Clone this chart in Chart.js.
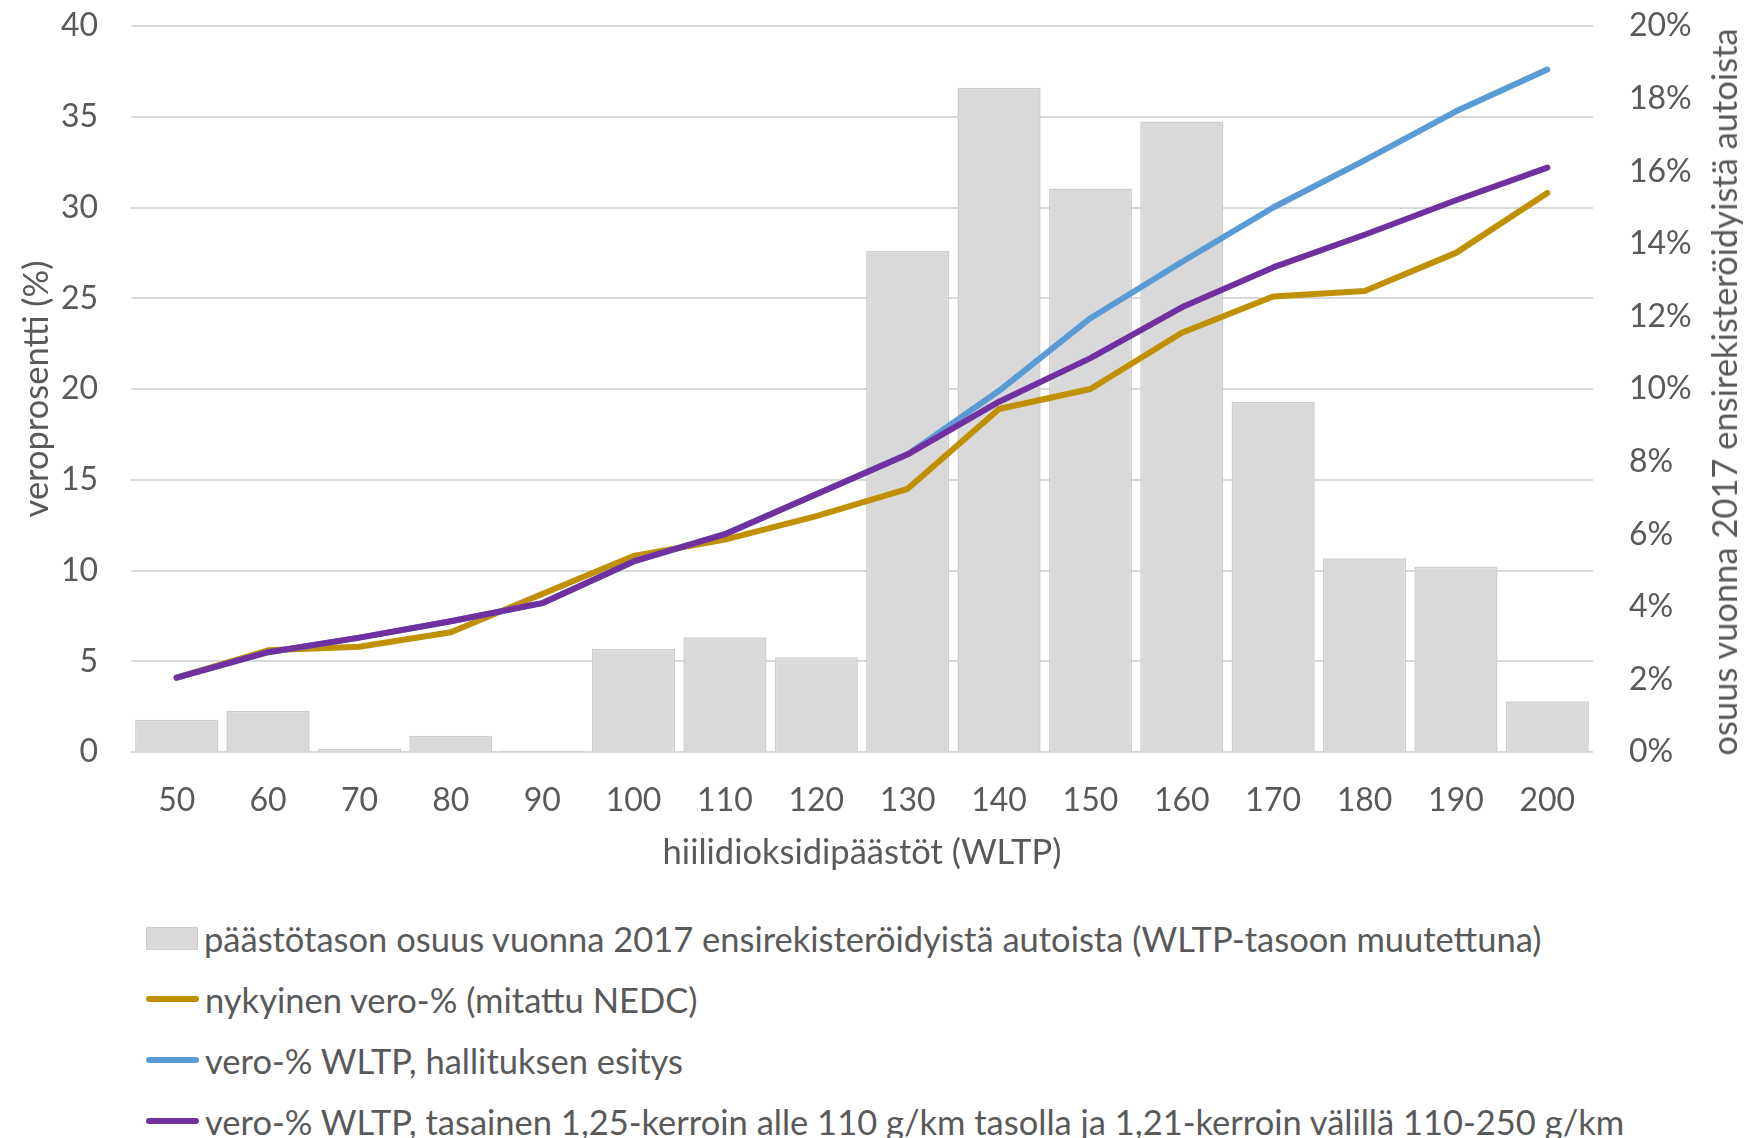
<!DOCTYPE html>
<html>
<head>
<meta charset="utf-8">
<script src="https://cdn.jsdelivr.net/npm/chart.js@4.4.1/dist/chart.umd.min.js"></script>
<style>
  body { margin: 0; background: #fff; font-family: Lato, sans-serif; }
  #wrap { position: relative; width: 1744px; height: 1138px; overflow: hidden; }
  #chart { position: absolute; left: 0; top: 0; }
  .row { position: absolute; left: 146px; height: 40px; display: flex; align-items: center;
         font-size: 34.5px; color: #595959; white-space: nowrap; }
  .sw { flex: none; margin-right: 6px; }
  #rightTitle { position: absolute; left: 1724px; top: 392px; font-size: 34.5px; color: #595959;
                white-space: nowrap; transform: translate(-50%, -50%) rotate(-90deg); line-height: 40px; }
</style>
</head>
<body>
<div id="wrap">
  <canvas id="chart" width="1744" height="890"></canvas>
  <div id="rightTitle"></div>
  <div id="legend"></div>
</div>
<script>
// x categories (g/km WLTP)
const categories = ['50', '60', '70', '80', '90', '100', '110', '120', '130', '140', '150', '160', '170', '180', '190', '200']

// share of 2017 first registrations, % (right axis)
const shareValues = [0.89, 1.13, 0.09, 0.45, 0.04, 2.84, 3.16, 2.61, 13.8, 18.3, 15.52, 17.37, 9.65, 5.34, 5.1, 1.4]

// tax percentages (left axis)
const currentTax = [4.1, 5.6, 5.8, 6.6, 8.7, 10.8, 11.7, 13.0, 14.5, 18.9, 20.0, 23.1, 25.1, 25.4, 27.5, 30.8]
const govProposal = [4.1, 5.5, 6.3, 7.2, 8.2, 10.5, 12.0, 14.2, 16.4, 19.9, 23.9, 27.0, 30.0, 32.6, 35.3, 37.6]
const flatCoef = [4.1, 5.5, 6.3, 7.2, 8.2, 10.5, 12.0, 14.2, 16.4, 19.3, 21.7, 24.5, 26.7, 28.5, 30.4, 32.2]

const seriesLabels = [
  'päästötason osuus vuonna 2017 ensirekisteröidyistä autoista (WLTP-tasoon muutettuna)',
  'nykyinen vero-% (mitattu NEDC)',
  'vero-% WLTP, hallituksen esitys',
  'vero-% WLTP, tasainen 1,25-kerroin alle 110 g/km tasolla ja 1,21-kerroin välillä 110-250 g/km'
]
const rightAxisTitle = 'osuus vuonna 2017 ensirekisteröidyistä autoista'

const textColor = '#595959'
const gridColor = '#D9D9D9'
const tickFont = { family: 'Lato', size: 32 }
const titleFont = { family: 'Lato', size: 34.5 }

const lineBase = {
  type: 'line',
  yAxisID: 'y',
  borderWidth: 6,
  pointRadius: 0,
  tension: 0,
  borderCapStyle: 'round',
  borderJoinStyle: 'round',
  fill: false
}

// fixed scale box sizes so the plot area sits where the original has it
function fixWidth(w) {
  return (scale) => {
    scale.width = w
    scale.paddingTop = 0
    scale.paddingBottom = 0
  }
}

const ctx = document.getElementById('chart')

new Chart(ctx, {
  data: {
    labels: categories,
    datasets: [
      {
        type: 'bar',
        label: seriesLabels[0],
        data: shareValues,
        yAxisID: 'y2',
        backgroundColor: '#D9D9D9',
        borderColor: '#CDCDCD',
        borderWidth: 1.5,
        barPercentage: 1,
        categoryPercentage: 0.91,
        order: 4
      },
      { ...lineBase, label: seriesLabels[1], data: currentTax, borderColor: '#BF9000', order: 3 },
      { ...lineBase, label: seriesLabels[2], data: govProposal, borderColor: '#5B9BD5', order: 2 },
      { ...lineBase, label: seriesLabels[3], data: flatCoef, borderColor: '#7030A0', order: 1 }
    ]
  },
  options: {
    responsive: false,
    animation: false,
    devicePixelRatio: 1,
    layout: { padding: { top: 26, left: 0, right: 0, bottom: 0 } },
    plugins: {
      legend: { display: false },
      tooltip: { enabled: false }
    },
    scales: {
      x: {
        grid: { display: false, drawTicks: false },
        border: { display: false },
        ticks: { color: textColor, font: tickFont, padding: 29 },
        title: {
          display: true,
          text: 'hiilidioksidipäästöt (WLTP)',
          color: textColor,
          font: titleFont,
          padding: { top: 0, bottom: 16 }
        },
        afterFit: (scale) => { scale.height = 138 }
      },
      y: {
        position: 'left',
        min: 0,
        max: 40,
        ticks: { stepSize: 5, color: textColor, font: tickFont, padding: 33 },
        grid: { color: gridColor, lineWidth: 2, drawTicks: false },
        border: { display: false },
        title: {
          display: true,
          text: 'veroprosentti (%)',
          color: textColor,
          font: titleFont,
          padding: { top: 16, bottom: 0 }
        },
        afterFit: fixWidth(131)
      },
      y2: {
        position: 'right',
        min: 0,
        max: 20,
        ticks: {
          stepSize: 2,
          color: textColor,
          font: tickFont,
          padding: 36,
          callback: (v) => v + '%'
        },
        grid: { display: false, drawTicks: false },
        border: { display: false },
        afterFit: fixWidth(151)
      }
    }
  }
})

// right axis title reads bottom to top, as in the original
document.getElementById('rightTitle').textContent = rightAxisTitle

// legend, one entry per row like the original
const legendEl = document.getElementById('legend')
const swatches = [
  { w: 52, h: 23, c: '#D9D9D9', b: '1px solid #CDCDCD', r: 0 },
  { w: 53, h: 6, c: '#BF9000', b: 'none', r: 3 },
  { w: 53, h: 6, c: '#5B9BD5', b: 'none', r: 3 },
  { w: 53, h: 6, c: '#7030A0', b: 'none', r: 3 }
]
const rowCenters = [938, 999, 1060, 1121]
seriesLabels.forEach((label, i) => {
  const row = document.createElement('div')
  row.className = 'row'
  row.style.top = (rowCenters[i] - 20) + 'px'
  const sw = document.createElement('span')
  sw.className = 'sw'
  const s = swatches[i]
  sw.style.width = s.w + 'px'
  sw.style.height = s.h + 'px'
  sw.style.background = s.c
  sw.style.border = s.b
  sw.style.borderRadius = s.r + 'px'
  sw.style.boxSizing = 'border-box'
  const txt = document.createElement('span')
  txt.textContent = label
  row.appendChild(sw)
  row.appendChild(txt)
  legendEl.appendChild(row)
})
</script>
</body>
</html>
